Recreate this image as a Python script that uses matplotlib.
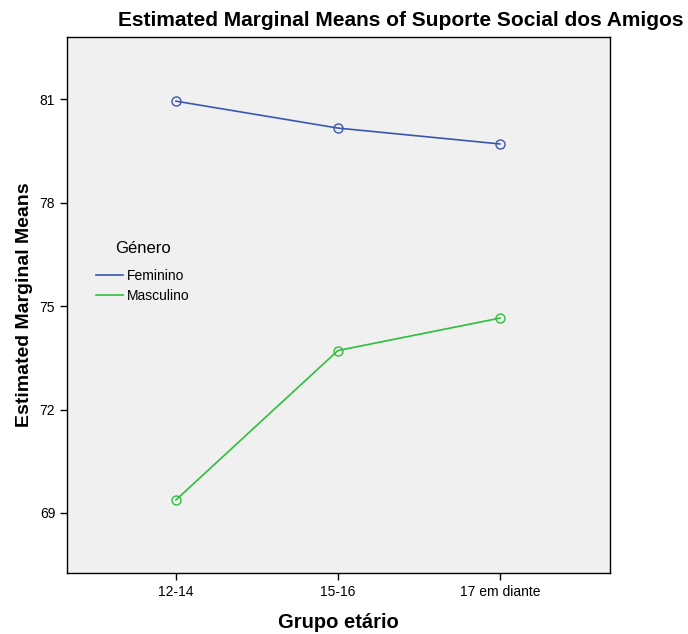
import matplotlib
matplotlib.use("Agg")
import matplotlib.pyplot as plt

plt.rcParams['font.family'] = ['Liberation Sans', 'DejaVu Sans']

# Data
grupos = ["12-14", "15-16", "17 em diante"]
feminino = [80.94, 80.16, 79.70]
masculino = [69.38, 73.71, 74.65]

blue = "#3b56b0"
green = "#2fbf3c"

fig = plt.figure(figsize=(6.88, 6.34), dpi=100)
ax = fig.add_axes([0.0974, 0.0962, 0.7892, 0.8454])
ax.set_facecolor("#f0f0f0")

x = list(range(len(grupos)))
ax.plot(x, feminino, color=blue, lw=1.2, marker="o", markersize=6.5,
        markerfacecolor="none", markeredgecolor=blue)
ax.plot(x, masculino, color=green, lw=1.2, marker="o", markersize=6.5,
        markerfacecolor="none", markeredgecolor=green)
# legend handles: lines only
ax.plot([], [], color=blue, lw=1.2, label="Feminino")
ax.plot([], [], color=green, lw=1.2, label="Masculino")

ax.set_xlim(-0.673, 2.68)
ax.set_ylim(67.26, 82.8)
ax.set_xticks(x)
ax.set_xticklabels(grupos, fontsize=10)
ax.set_yticks([69, 72, 75, 78, 81])
ax.tick_params(axis="both", labelsize=10, length=5, width=1, color="black")

for s in ax.spines.values():
    s.set_linewidth(1)

ax.set_xlabel("Grupo etário", fontsize=14.5, fontweight="bold", labelpad=10)
ax.set_ylabel("Estimated Marginal Means", fontsize=14, fontweight="bold", labelpad=5)

fig.text(0.583, 0.968, "Estimated Marginal Means of Suporte Social dos Amigos",
         ha="center", va="center", fontsize=15, fontweight="bold")

leg = ax.legend(title="Género", frameon=False, loc="upper left",
                bbox_to_anchor=(0.044, 0.629), fontsize=10, title_fontsize=12,
                handlelength=1.9, handletextpad=0.3, labelspacing=0.45,
                borderaxespad=0)
leg._legend_box.sep = 9

fig.savefig("out.png", dpi=100)
